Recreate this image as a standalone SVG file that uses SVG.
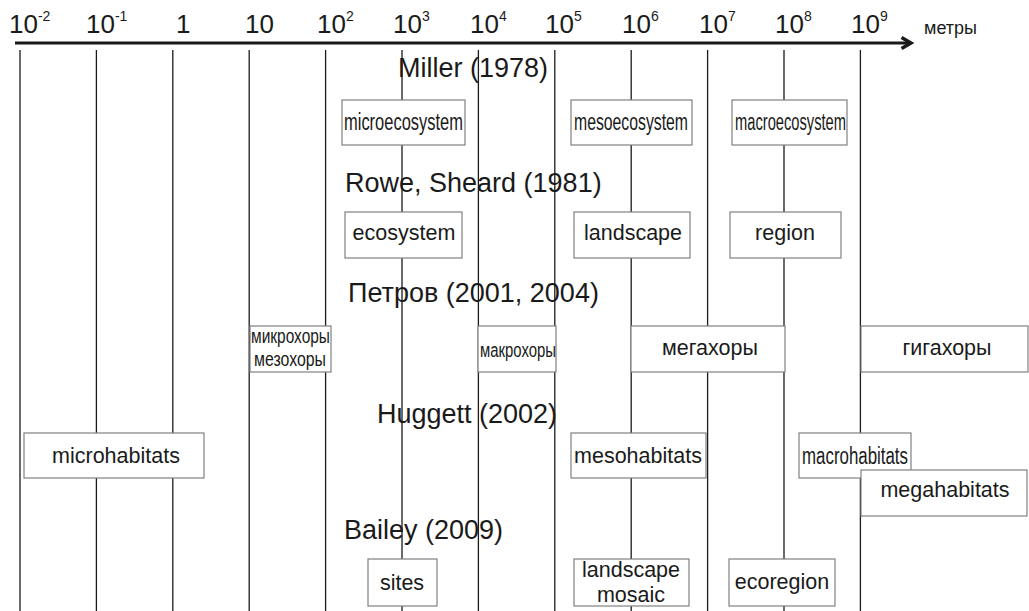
<svg xmlns="http://www.w3.org/2000/svg" width="1029" height="611" viewBox="0 0 1029 611">
<style>
text{font-family:"Liberation Sans",Arial,sans-serif;fill:#1a1a1a}
.ax{font-size:26px}
.sup{font-size:14px}
.ttl{font-size:27px}
.lb{font-size:21.5px;text-anchor:middle}
.cd{font-size:23px}
.cs{font-size:20px}
.grid line{stroke:#1a1a1a;stroke-width:1.3}
rect.bx{fill:#fff;stroke:#808080;stroke-width:1.2}
</style>
<defs>
<marker id="ah" viewBox="0 0 10 10" refX="8" refY="5" markerWidth="4.5" markerHeight="4.5" orient="auto" markerUnits="strokeWidth">
<path d="M1,1 L8,5 L1,9" fill="none" stroke="#1a1a1a" stroke-width="2.6"/>
</marker>
</defs>
<g id="connectors">
<line x1="15" y1="43" x2="911" y2="43" stroke="#1a1a1a" stroke-width="3" marker-end="url(#ah)"/>
<g class="grid">
<line x1="20" y1="50" x2="20" y2="611"/>
<line x1="96.4" y1="50" x2="96.4" y2="611"/>
<line x1="172.8" y1="50" x2="172.8" y2="611"/>
<line x1="249.2" y1="50" x2="249.2" y2="611"/>
<line x1="325.6" y1="50" x2="325.6" y2="611"/>
<line x1="402" y1="50" x2="402" y2="611"/>
<line x1="478.4" y1="50" x2="478.4" y2="611"/>
<line x1="554.8" y1="50" x2="554.8" y2="611"/>
<line x1="631.2" y1="50" x2="631.2" y2="611"/>
<line x1="707.6" y1="50" x2="707.6" y2="611"/>
<line x1="784" y1="50" x2="784" y2="611"/>
<line x1="860.4" y1="50" x2="860.4" y2="611"/>
</g>
</g>
<g id="axis-labels">
<text class="ax" x="9" y="33">10<tspan class="sup" dy="-12">-2</tspan></text>
<text class="ax" x="86" y="33">10<tspan class="sup" dy="-12">-1</tspan></text>
<text class="ax" x="176" y="33">1</text>
<text class="ax" x="245" y="33">10</text>
<text class="ax" x="317" y="33">10<tspan class="sup" dy="-12">2</tspan></text>
<text class="ax" x="393" y="33">10<tspan class="sup" dy="-12">3</tspan></text>
<text class="ax" x="470" y="33">10<tspan class="sup" dy="-12">4</tspan></text>
<text class="ax" x="545" y="33">10<tspan class="sup" dy="-12">5</tspan></text>
<text class="ax" x="622" y="33">10<tspan class="sup" dy="-12">6</tspan></text>
<text class="ax" x="699" y="33">10<tspan class="sup" dy="-12">7</tspan></text>
<text class="ax" x="775" y="33">10<tspan class="sup" dy="-12">8</tspan></text>
<text class="ax" x="851" y="33">10<tspan class="sup" dy="-12">9</tspan></text>
<text x="924" y="34" font-size="18">метры</text>
</g>
<g id="miller">
<text class="ttl" x="398" y="77">Miller (1978)</text>
<rect class="bx" x="342" y="100" width="123" height="45"/>
<text class="cd" x="344" y="130" textLength="119" lengthAdjust="spacingAndGlyphs">microecosystem</text>
<rect class="bx" x="571" y="100" width="121" height="45"/>
<text class="cd" x="574" y="130" textLength="114" lengthAdjust="spacingAndGlyphs">mesoecosystem</text>
<rect class="bx" x="732" y="100" width="115" height="45"/>
<text class="cd" x="735" y="130" textLength="111" lengthAdjust="spacingAndGlyphs">macroecosystem</text>
</g>
<g id="rowe">
<text class="ttl" x="345" y="192">Rowe, Sheard (1981)</text>
<rect class="bx" x="345" y="212" width="117" height="46"/>
<text class="lb" x="404" y="240">ecosystem</text>
<rect class="bx" x="574" y="212" width="116" height="46"/>
<text class="lb" x="633" y="240">landscape</text>
<rect class="bx" x="730" y="212" width="111" height="46"/>
<text class="lb" x="785" y="240">region</text>
</g>
<g id="petrov">
<text class="ttl" x="348" y="302">Петров (2001, 2004)</text>
<rect class="bx" x="250" y="326" width="81" height="46"/>
<text class="cs" x="251" y="343" textLength="79" lengthAdjust="spacingAndGlyphs">микрохоры</text>
<text class="cs" x="254" y="366" textLength="72" lengthAdjust="spacingAndGlyphs">мезохоры</text>
<rect class="bx" x="478" y="326" width="78" height="46"/>
<text class="cs" x="480" y="357" textLength="76" lengthAdjust="spacingAndGlyphs">макрохоры</text>
<rect class="bx" x="631" y="326" width="154" height="46"/>
<text class="lb" x="710" y="355">мегахоры</text>
<rect class="bx" x="861" y="326" width="167" height="46"/>
<text class="lb" x="947" y="355">гигахоры</text>
</g>
<g id="huggett">
<text class="ttl" x="377" y="423">Huggett (2002)</text>
<rect class="bx" x="24" y="433" width="180" height="45"/>
<text class="lb" x="116" y="463">microhabitats</text>
<rect class="bx" x="571" y="433" width="135" height="45"/>
<text class="lb" x="638" y="463">mesohabitats</text>
<rect class="bx" x="799" y="433" width="112" height="45"/>
<text class="cd" x="802" y="464" textLength="106" lengthAdjust="spacingAndGlyphs">macrohabitats</text>
<rect class="bx" x="861" y="470" width="166" height="46"/>
<text class="lb" x="945" y="497">megahabitats</text>
</g>
<g id="bailey">
<text class="ttl" x="344" y="539">Bailey (2009)</text>
<rect class="bx" x="368" y="559" width="69" height="47"/>
<text class="lb" x="402" y="590">sites</text>
<rect class="bx" x="574" y="559" width="115" height="47"/>
<text class="lb" x="631" y="577">landscape</text>
<text class="lb" x="631" y="602">mosaic</text>
<rect class="bx" x="729" y="559" width="106" height="47"/>
<text class="lb" x="782" y="589">ecoregion</text>
</g>
</svg>
